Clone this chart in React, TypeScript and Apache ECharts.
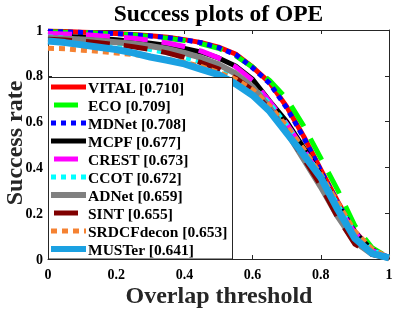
import React, { useEffect, useRef } from "react";
import * as echarts from "echarts";

const thresholds = [0, 0.05, 0.1, 0.15, 0.2, 0.25, 0.3, 0.35, 0.4, 0.45, 0.5, 0.55, 0.6, 0.65, 0.7, 0.75, 0.8, 0.85, 0.9, 0.95, 1];
const yTickValues = [0, 0.2, 0.4, 0.6, 0.8, 1];
const yTickLabels = ["0", "0.2", "0.4", "0.6", "0.8", "1"];

const trackerNames = [
  "VITAL [0.710]",
  "ECO [0.709]",
  "MDNet [0.708]",
  "MCPF [0.677]",
  "CREST [0.673]",
  "CCOT [0.672]",
  "ADNet [0.659]",
  "SINT [0.655]",
  "SRDCFdecon [0.653]",
  "MUSTer [0.641]",
];

const vital = [0.995, 0.993, 0.99, 0.988, 0.985, 0.98, 0.975, 0.968, 0.958, 0.945, 0.925, 0.895, 0.838, 0.77, 0.665, 0.535, 0.39, 0.25, 0.12, 0.04, 0.005];
const eco = [0.992, 0.99, 0.988, 0.986, 0.983, 0.978, 0.972, 0.964, 0.954, 0.94, 0.92, 0.888, 0.838, 0.78, 0.7, 0.58, 0.44, 0.3, 0.145, 0.05, 0.005];
const mdnet = [0.994, 0.992, 0.989, 0.987, 0.984, 0.979, 0.974, 0.967, 0.957, 0.944, 0.923, 0.893, 0.835, 0.767, 0.66, 0.53, 0.385, 0.245, 0.117, 0.038, 0.005];
const mcpf = [0.975, 0.972, 0.968, 0.963, 0.957, 0.95, 0.942, 0.932, 0.92, 0.903, 0.878, 0.843, 0.785, 0.69, 0.6, 0.485, 0.365, 0.235, 0.115, 0.04, 0.005];
const crest = [0.985, 0.983, 0.98, 0.975, 0.97, 0.964, 0.955, 0.943, 0.928, 0.908, 0.878, 0.84, 0.78, 0.688, 0.59, 0.478, 0.36, 0.233, 0.113, 0.038, 0.005];
const ccot = [0.97, 0.965, 0.958, 0.95, 0.94, 0.93, 0.915, 0.9, 0.88, 0.86, 0.835, 0.8, 0.752, 0.678, 0.585, 0.475, 0.36, 0.235, 0.115, 0.04, 0.005];
const adnet = [0.965, 0.962, 0.958, 0.953, 0.947, 0.94, 0.93, 0.917, 0.9, 0.878, 0.85, 0.81, 0.752, 0.662, 0.555, 0.435, 0.315, 0.185, 0.075, 0.022, 0.004];
const sint = [0.96, 0.956, 0.951, 0.944, 0.936, 0.927, 0.915, 0.9, 0.88, 0.857, 0.83, 0.79, 0.738, 0.652, 0.555, 0.44, 0.32, 0.18, 0.065, 0.02, 0.004];
const srdcfdecon = [0.92, 0.918, 0.912, 0.907, 0.9, 0.893, 0.885, 0.872, 0.86, 0.84, 0.815, 0.785, 0.74, 0.67, 0.58, 0.48, 0.37, 0.245, 0.12, 0.045, 0.005];
const muster = [0.952, 0.945, 0.935, 0.925, 0.915, 0.9, 0.882, 0.868, 0.852, 0.828, 0.805, 0.765, 0.715, 0.645, 0.55, 0.455, 0.355, 0.215, 0.09, 0.025, 0.005];

const seriesValues = [vital, eco, mdnet, mcpf, crest, ccot, adnet, sint, srdcfdecon, muster];

const colors = ["#ff0000", "#00ff00", "#0000ff", "#000000", "#ff00ff", "#00ffff", "#808080", "#800000", "#f58232", "#1ba1e2"];
const widths = [5, 5, 5, 5, 5, 5, 6, 5, 5, 7];
const dashes: any[] = ["solid", [24, 14], [5, 5], "solid", [24, 14], [5, 5], "solid", [24, 14], [6, 5], "solid"];

const FONT = "'Liberation Serif', 'Times New Roman', serif";

export default function App() {
  const ref = useRef<HTMLDivElement>(null);
  useEffect(() => {
    if (!ref.current) return;
    const chart = echarts.init(ref.current, null, { renderer: "svg" });
    const axisLineStyle = { color: "#262626", width: 1 };
    const tick = { show: true, inside: true, length: 4, lineStyle: { color: "#262626", width: 1 } };
    const labelStyle = { fontFamily: FONT, fontWeight: "bold" as const, fontSize: 14, color: "#000" };
    const series = trackerNames.map((name, i) => ({
      type: "line",
      name,
      data: thresholds.map((t, j) => [t, seriesValues[i][j]]),
      symbol: "none",
      clip: false,
      lineStyle: { color: colors[i], width: widths[i], type: dashes[i], cap: "butt", join: "round" },
      itemStyle: { color: colors[i] },
      z: 2,
    }));

    // legend drawn as graphic rows (box at x 48..232, rows every 18px)
    const legendItems: any[] = [];
    trackerNames.forEach((n, i) => {
      const cy = 87 + 18 * i;
      const d = dashes[i];
      legendItems.push({
        type: "line",
        id: "lgl" + i,
        z: 9,
        shape: { x1: 51, y1: cy, x2: 86, y2: cy },
        style: {
          stroke: colors[i],
          lineWidth: widths[i] === 7 ? 6 : widths[i],
          lineDash: Array.isArray(d) ? d : null,
          lineDashOffset: Array.isArray(d) && d[0] > 10 ? 35 : 0,
          lineCap: "butt",
        },
      });
      legendItems.push({
        type: "text",
        id: "lgt" + i,
        z: 9,
        x: 88,
        y: cy,
        style: {
          text: n,
          fontFamily: FONT,
          fontWeight: "bold",
          fontSize: 15.5,
          fill: "#000",
          align: "left",
          verticalAlign: "middle",
        },
      });
    });

    const baseGraphic: any[] = [
      {
        type: "rect",
        id: "legendBox",
        z: 8,
        shape: { x: 48.5, y: 77.5, width: 184, height: 181.5 },
        style: { fill: "#ffffff", stroke: "#262626", lineWidth: 1 },
      },
      ...legendItems,
      {
        type: "text",
        id: "title",
        z: 10,
        x: 218.5,
        y: 12.5,
        style: {
          text: "Success plots of OPE",
          fontFamily: FONT,
          fontWeight: "bold",
          fontSize: 23.5,
          fill: "#000",
          align: "center",
          verticalAlign: "middle",
        },
      },
      {
        type: "text",
        id: "xname",
        z: 10,
        x: 219,
        y: 295,
        style: {
          text: "Overlap threshold",
          fontFamily: FONT,
          fontWeight: "bold",
          fontSize: 24,
          fill: "#262626",
          align: "center",
          verticalAlign: "middle",
        },
      },
      {
        type: "text",
        id: "yname",
        z: 10,
        x: 14,
        y: 143,
        rotation: Math.PI / 2,
        style: {
          text: "Success rate",
          fontFamily: FONT,
          fontWeight: "bold",
          fontSize: 24,
          fill: "#262626",
          align: "center",
          verticalAlign: "middle",
        },
      },
    ];

    chart.setOption({
      animation: false,
      grid: { left: 48, right: 9, top: 30, bottom: 50 },
      xAxis: [
        {
          type: "value",
          min: 0,
          max: 1,
          interval: 0.2,
          position: "bottom",
          axisLine: { show: true, lineStyle: axisLineStyle },
          axisTick: tick,
          splitLine: { show: false },
          axisLabel: { ...labelStyle, margin: 8 },
        },
        {
          type: "value",
          min: 0,
          max: 1,
          interval: 0.2,
          position: "top",
          axisLine: { show: true, onZero: false, lineStyle: axisLineStyle },
          axisTick: tick,
          splitLine: { show: false },
          axisLabel: { show: false },
        },
      ],
      yAxis: [
        {
          type: "value",
          min: 0,
          max: 1,
          interval: 0.2,
          position: "left",
          axisLine: { show: true, lineStyle: axisLineStyle },
          axisTick: tick,
          splitLine: { show: false },
          axisLabel: { show: false },
        },
        {
          type: "value",
          min: 0,
          max: 1,
          interval: 0.2,
          position: "right",
          axisLine: { show: true, onZero: false, lineStyle: axisLineStyle },
          axisTick: tick,
          splitLine: { show: false },
          axisLabel: { show: false },
        },
      ],
      graphic: baseGraphic,
      series,
    });

    // y tick labels placed through the axis scale
    const yLabelItems = yTickValues.map((v, k) => {
      const p = chart.convertToPixel({ xAxisIndex: 0, yAxisIndex: 0 } as any, [0, v]) as number[];
      return {
        type: "text",
        id: "ylab" + k,
        z: 10,
        x: p[0] - 5,
        y: p[1],
        style: {
          text: yTickLabels[k],
          fontFamily: FONT,
          fontWeight: "bold",
          fontSize: 14,
          fill: "#000",
          align: "right",
          verticalAlign: "middle",
        },
      };
    });
    chart.setOption({ graphic: [...baseGraphic, ...yLabelItems] });

    return () => chart.dispose();
  }, []);
  return <div ref={ref} style={{ position: "fixed", left: 0, top: 0, width: 398, height: 309 }} />;
}
